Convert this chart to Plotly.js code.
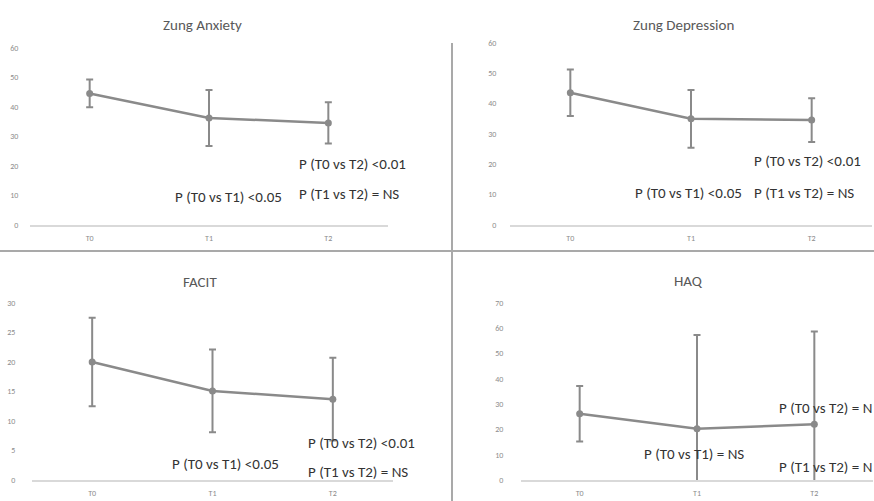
<!DOCTYPE html>
<html>
<head>
<meta charset="utf-8">
<script src="https://cdn.plot.ly/plotly-3.0.1.min.js"></script>
<style>html,body{margin:0;padding:0;background:#fff;}#chart{width:874px;height:501px;}</style>
</head>
<body>
<div id="chart"></div>
<script>
// ---- data ----
const categories = ['T0', 'T1', 'T2'];

const anxietyMean = [44.6, 36.3, 34.6];
const anxietyErr = [4.7, 9.5, 7.0];

const depressionMean = [43.6, 35.0, 34.6];
const depressionErr = [7.7, 9.5, 7.2];

const facitMean = [20.0, 15.1, 13.7];
const facitErr = [7.5, 7.0, 7.0];

const haqMean = [26.2, 20.3, 22.0];
const haqErr = [11.0, 37.0, 36.7];

const panelTitles = ['Zung Anxiety', 'Zung Depression', 'FACIT', 'HAQ'];

const anxietyNotes = ['P (T0 vs T2) <0.01', 'P (T1 vs T2) = NS', 'P (T0 vs T1) <0.05'];
const depressionNotes = ['P (T0 vs T2) <0.01', 'P (T1 vs T2) = NS', 'P (T0 vs T1) <0.05'];
const facitNotes = ['P (T0 vs T2) <0.01', 'P (T1 vs T2) = NS', 'P (T0 vs T1) <0.05'];
// as visible in the reference (cut at the right edge of the figure)
const haqNotes = ['P (T0 vs T2) = N', 'P (T1 vs T2) = N', 'P (T0 vs T1) = NS'];

// ---- helpers ----
const W = 874, H = 501;
const px = x => x / W;
const py = y => 1 - y / H;
const GRAY = '#8a8a8a';
const FONT = "Carlito, 'Liberation Sans Narrow', 'DejaVu Sans Condensed', 'Open Sans', sans-serif";

function series(mean, err, xa, ya) {
  return {
    type: 'scatter', mode: 'lines+markers',
    x: categories, y: mean, xaxis: xa, yaxis: ya,
    line: {color: GRAY, width: 2.5},
    marker: {color: GRAY, size: 7},
    error_y: {type: 'data', array: err, visible: true, color: GRAY, thickness: 2, width: 3.5},
    hoverinfo: 'skip', showlegend: false
  };
}

const data = [
  series(anxietyMean, anxietyErr, 'x', 'y'),
  series(depressionMean, depressionErr, 'x2', 'y2'),
  series(facitMean, facitErr, 'x3', 'y3'),
  series(haqMean, haqErr, 'x4', 'y4')
];

function xax(domain, anchor) {
  return {
    domain: domain, anchor: anchor, type: 'category', range: [-0.5, 2.5],
    showline: true, linecolor: '#d9d9d9', linewidth: 1.5,
    showgrid: false, zeroline: false,
    ticks: 'outside', ticklen: 5, tickcolor: 'rgba(0,0,0,0)',
    tickfont: {family: FONT, size: 8, color: '#8c8c8c'}
  };
}
function yax(domain, anchor, range, dtick, standoff) {
  return {
    domain: domain, anchor: anchor, range: range, dtick: dtick, tick0: 0,
    showline: false, showgrid: false, zeroline: false,
    ticks: 'outside', ticklen: standoff, tickcolor: 'rgba(0,0,0,0)',
    tickfont: {family: FONT, size: 8, color: '#8c8c8c'}
  };
}

const annotations = [];
function title(text, cx, cy) {
  annotations.push({text: text, xref: 'paper', yref: 'paper', x: px(cx), y: py(cy),
    xanchor: 'center', yanchor: 'middle', showarrow: false,
    font: {family: FONT, size: 15, color: '#595959'}});
}
function note(text, lx, cy) {
  annotations.push({text: text, xref: 'paper', yref: 'paper', x: px(lx), y: py(cy),
    xanchor: 'left', yanchor: 'middle', showarrow: false,
    font: {family: FONT, size: 15, color: '#333333'}});
}

title(panelTitles[0], 202, 25);
title(panelTitles[1], 683, 25);
title(panelTitles[2], 200, 282);
title(panelTitles[3], 688, 281);

note(anxietyNotes[0], 297, 164);
note(anxietyNotes[1], 297, 194);
note(anxietyNotes[2], 173, 197);

note(depressionNotes[0], 752, 161);
note(depressionNotes[1], 752, 193);
note(depressionNotes[2], 633, 193);

note(facitNotes[0], 306, 443);
note(facitNotes[1], 306, 472);
note(facitNotes[2], 170, 464);

note(haqNotes[0], 777, 408);
note(haqNotes[1], 777, 467);
note(haqNotes[2], 642, 454);

const layout = {
  width: W, height: H,
  margin: {l: 0, r: 0, t: 0, b: 0},
  paper_bgcolor: '#ffffff', plot_bgcolor: 'rgba(0,0,0,0)',
  showlegend: false,
  xaxis: xax([px(30), px(388)], 'y'),
  yaxis: yax([py(225), py(48)], 'x', [0, 60], 10, 9),
  xaxis2: xax([px(510), px(872)], 'y2'),
  yaxis2: yax([py(225), py(43)], 'x2', [0, 60], 10, 11),
  xaxis3: xax([px(32), px(393)], 'y3'),
  yaxis3: yax([py(480), py(303)], 'x3', [0, 30], 5, 14),
  xaxis4: xax([px(521), px(873)], 'y4'),
  yaxis4: yax([py(480), py(303)], 'x4', [0, 70], 10, 15),
  shapes: [
    {type: 'line', xref: 'paper', yref: 'paper', x0: 0, x1: 1, y0: py(251), y1: py(251),
     line: {color: '#a9a9a9', width: 2}},
    {type: 'line', xref: 'paper', yref: 'paper', x0: px(452), x1: px(452), y0: py(43), y1: 0,
     line: {color: '#a9a9a9', width: 2}}
  ],
  annotations: annotations
};

Plotly.newPlot('chart', data, layout, {staticPlot: true, displayModeBar: false});
</script>
</body>
</html>
